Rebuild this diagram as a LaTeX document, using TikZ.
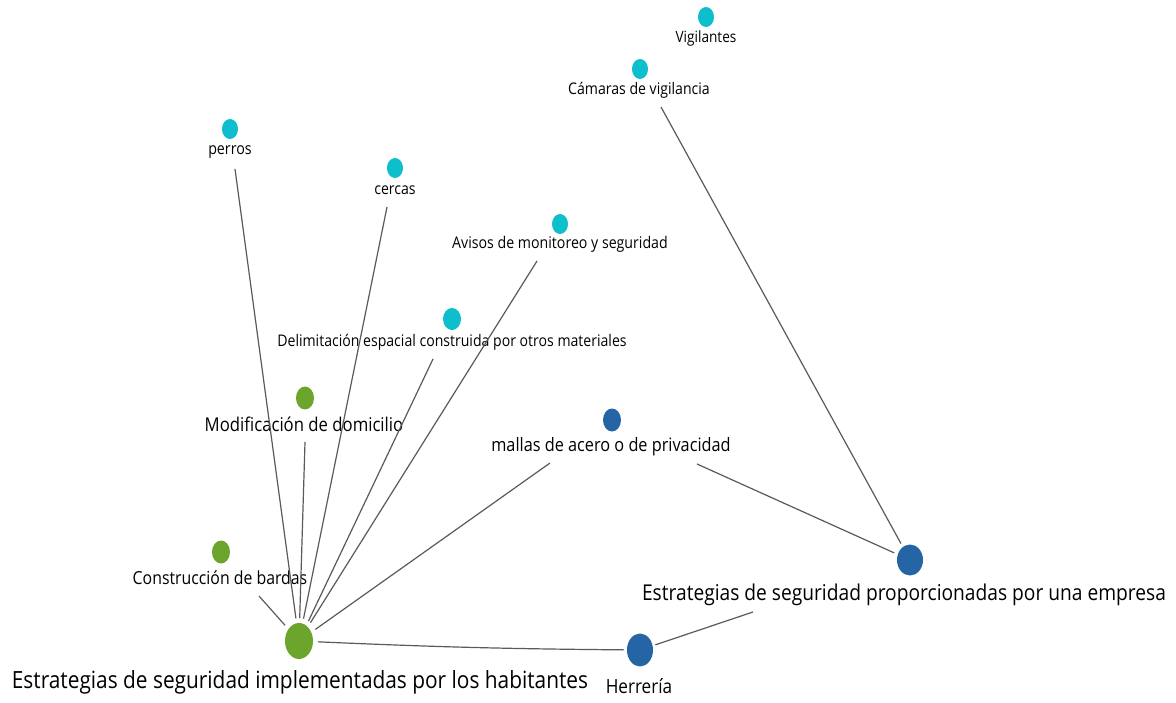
\documentclass[tikz,border=0pt]{standalone}
\usepackage{fontspec}
\setmainfont{Open Sans}[FakeStretch=0.88]
\usetikzlibrary{shapes.geometric}
\definecolor{ccyan}{HTML}{0DBFCC}
\definecolor{cgreen}{HTML}{6BA52B}
\definecolor{cblue}{HTML}{2565A5}
\definecolor{cedge}{HTML}{5A5A5A}
\tikzset{
  dot/.style={ellipse, inner sep=0pt, draw=none},
  cdot/.style={dot, fill=ccyan, minimum width=16pt, minimum height=20pt},
  gdot/.style={dot, fill=cgreen, minimum width=18pt, minimum height=23pt},
  bdot/.style={dot, fill=cblue, minimum width=18pt, minimum height=23pt},
  lbl/.style={inner sep=0pt, font=\fontsize{#1}{#1}\selectfont},
  edge/.style={draw=cedge, line width=1.2pt},
}
\begin{document}
\begin{tikzpicture}[x=1pt, y=-1pt]
\useasboundingbox[fill=white] (0,0) rectangle (1176,703);
% dots
\node[cdot] (dvig) at (706,17) {};
\node[cdot] (dcam) at (640,69) {};
\node[cdot] (dper) at (230,129) {};
\node[cdot] (dcer) at (395,168) {};
\node[cdot] (davi) at (560,224) {};
\node[cdot, minimum width=18pt, minimum height=22pt] (ddel) at (452,319) {};
\node[gdot] (dmod) at (305,398) {};
\node[bdot] (dmal) at (612,420) {};
\node[gdot] (dcon) at (221,552) {};
\node[dot, fill=cgreen, minimum width=28pt, minimum height=36pt, outer sep=5pt] (hub) at (299,641) {};
\node[dot, fill=cblue, minimum width=26pt, minimum height=33pt, outer sep=3pt] (dher) at (640,650) {};
\node[dot, fill=cblue, minimum width=26pt, minimum height=31pt, outer sep=4pt] (demp) at (910,560) {};
% labels
\node[lbl=15.5] (lvig) at (706,38) {Vigilantes};
\node[lbl=16] (lcam) at (639,90) {Cámaras de vigilancia};
\node[lbl=16.2] (lper) at (230,152) {perros};
\node[lbl=16] (lcer) at (395,190) {cercas};
\node[lbl=16.1] (lavi) at (560,244) {Avisos de monitoreo y seguridad};
\node[lbl=16] (ldel) at (452,342) {Delimitación espacial construida por otros materiales};
\node[lbl=19] (lmod) at (304,424) {Modificación de domicilio};
\node[lbl=18.5] (lmal) at (611,447) {mallas de acero o de privacidad};
\node[lbl=18] (lcon) at (220,578) {Construcción de bardas};
\node[lbl=23.7] (lhub) at (300,682) {Estrategias de seguridad implementadas por los habitantes};
\node[lbl=19.5] (lher) at (639,686) {Herrería};
\node[lbl=21.8] (lemp) at (904,595) {Estrategias de seguridad proporcionadas por una empresa};
% edges
\draw[edge] ([shift={(5,17)}]lper.center) -- (hub);
\draw[edge] ([shift={(-8,17)}]lcer.center) -- (hub);
\draw[edge] ([shift={(-23,17)}]lavi.center) -- (hub);
\draw[edge] ([shift={(-19,17)}]ldel.center) -- (hub);
\draw[edge] ([shift={(1,18)}]lmod.center) -- (hub);
\draw[edge] ([shift={(39,18)}]lcon.center) -- (hub);
\draw[edge] ([shift={(-61,16)}]lmal.center) -- (hub);
\draw[edge] ([shift={(86,17)}]lmal.center) -- (demp);
\draw[edge] ([shift={(22,17)}]lcam.center) -- (demp);
\draw[edge] (hub) to[bend right=1] (dher);
\draw[edge] (dher) -- ([shift={(-151,17)}]lemp.center);
\end{tikzpicture}
\end{document}
